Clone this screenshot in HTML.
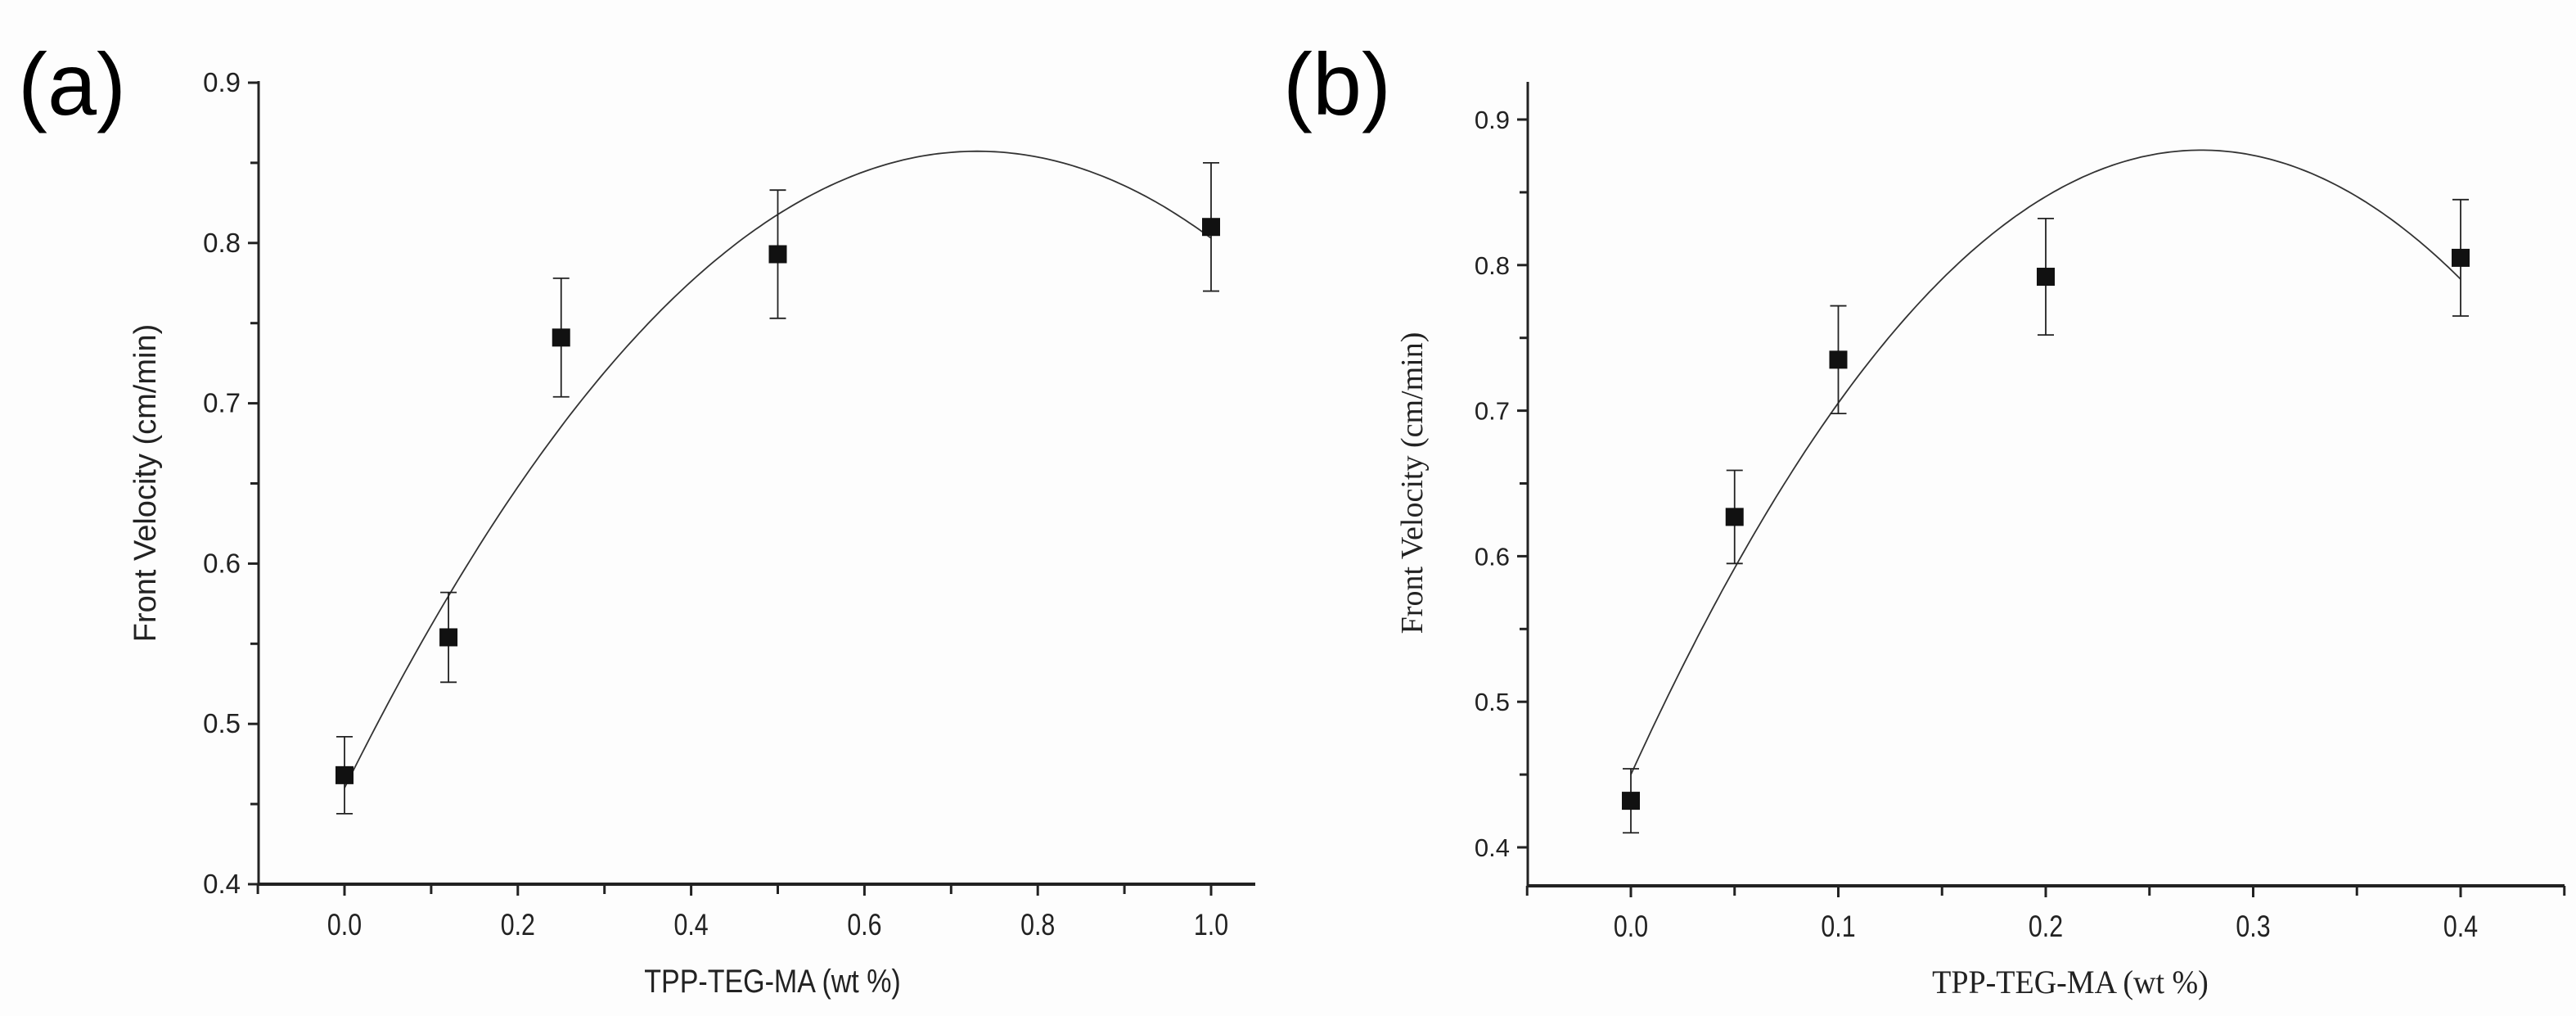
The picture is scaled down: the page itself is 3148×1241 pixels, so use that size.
<!DOCTYPE html>
<html><head><meta charset="utf-8"><style>
html,body{margin:0;padding:0;background:#fff;}
svg{display:block;}
.tk{font-family:"Liberation Sans",sans-serif;fill:#222;}
</style></head><body>
<svg id="fig" width="3148" height="1241" viewBox="0 0 3148 1241" xmlns="http://www.w3.org/2000/svg">
<rect width="3148" height="1241" fill="#fdfdfd"/>
<text x="22" y="140" font-family="Liberation Sans, sans-serif" font-size="108" fill="#000">(a)</text>
<text x="1568" y="140" font-family="Liberation Sans, sans-serif" font-size="108" fill="#000">(b)</text>
<g id="pa"></g>
<g id="pb"></g>
</svg>
<script>
// Panel (a) data
const xA = [0, 0.12, 0.25, 0.5, 1.0];
const yA = [0.468, 0.554, 0.741, 0.793, 0.81];
const eA = [0.024, 0.028, 0.037, 0.04, 0.04];
const fitA = [0.46, 1.088, -0.745];
const xTicksA = ["0.0","0.2","0.4","0.6","0.8","1.0"];
const yTicksA = ["0.4","0.5","0.6","0.7","0.8","0.9"];
// Panel (b) data
const xB = [0, 0.05, 0.1, 0.2, 0.4];
const yB = [0.432, 0.627, 0.735, 0.792, 0.805];
const eB = [0.022, 0.032, 0.037, 0.04, 0.04];
const fitB = [0.45, 3.12, -5.673];
const xTicksB = ["0.0","0.1","0.2","0.3","0.4"];
const yTicksB = ["0.4","0.5","0.6","0.7","0.8","0.9"];

const NS="http://www.w3.org/2000/svg";
function mk(parent,tag,attrs){const e=document.createElementNS(NS,tag);for(const k in attrs)e.setAttribute(k,attrs[k]);parent.appendChild(e);return e;}

function draw(g,cfg){
  const sx=v=>cfg.px0+(v-cfg.x0)*(cfg.px1-cfg.px0)/(cfg.x1-cfg.x0);
  const sy=v=>cfg.py0-(v-cfg.y0)*(cfg.py0-cfg.py1)/(cfg.y1-cfg.y0);
  // axes
  let a=mk(g,'line',{x1:cfg.axL,y1:cfg.axTop,x2:cfg.axL,y2:cfg.axB+1,stroke:'#222','stroke-width':3});
  
  
  a=mk(g,'line',{x1:cfg.axL-1,y1:cfg.axB,x2:cfg.axR,y2:cfg.axB,stroke:'#222','stroke-width':4});
  
  
  // y ticks
  cfg.yt.forEach((t,i)=>{
    const v=parseFloat(t),y=sy(v);
    const l=mk(g,'line',{x1:cfg.axL-13,y1:y,x2:cfg.axL,y2:y,stroke:'#222','stroke-width':3});
    
    
    const tx=mk(g,'text',{x:cfg.axL-22,y:y+11,'text-anchor':'end','font-size':cfg.yfs,class:'tk'});
    tx.textContent=t;
    
    
    if(i<cfg.yt.length-1){const ym=sy(v+cfg.ystep/2);
      const m=mk(g,'line',{x1:cfg.axL-10,y1:ym,x2:cfg.axL,y2:ym,stroke:'#222','stroke-width':3});
      
      }
  });
  // x ticks
  cfg.xt.forEach((t,i)=>{
    const v=parseFloat(t),x=sx(v);
    const l=mk(g,'line',{x1:x,y1:cfg.axB,x2:x,y2:cfg.axB+14,stroke:'#222','stroke-width':3});
    
    
    const tx=mk(g,'text',{x:0,y:0,'text-anchor':'middle','font-size':37,class:'tk',transform:`translate(${x},${cfg.axB+62}) scale(0.82,1)`});
    tx.textContent=t;
    
    
    [v-cfg.xstep/2, v+cfg.xstep/2].forEach((mv,j)=>{
      if(j===1&&i<cfg.xt.length-1||j===0&&i===0||j===1&&i===cfg.xt.length-1&&sx(mv)<cfg.axR){const xm=sx(mv);
      const m=mk(g,'line',{x1:xm,y1:cfg.axB,x2:xm,y2:cfg.axB+12,stroke:'#222','stroke-width':3});
      
      }
    });
  });
  // fit curve
  let d='';
  for(let k=0;k<=200;k++){const v=cfg.fx0+(cfg.fx1-cfg.fx0)*k/200;const yv=cfg.fit[0]+cfg.fit[1]*v+cfg.fit[2]*v*v;d+=(k?'L':'M')+sx(v).toFixed(1)+','+sy(yv).toFixed(1);}
  const c=mk(g,'path',{d:d,fill:'none',stroke:'#333','stroke-width':1.8});
  
  
  // points
  cfg.xs.forEach((xv,i)=>{
    const x=sx(xv),y=sy(cfg.ys[i]),yt=sy(cfg.ys[i]+cfg.es[i]),yb=sy(cfg.ys[i]-cfg.es[i]);
    const eb=mk(g,'path',{d:`M${x},${yt}V${yb}M${x-10},${yt}H${x+10}M${x-10},${yb}H${x+10}`,stroke:'#222','stroke-width':1.8,fill:'none'});
    
    
    const r=mk(g,'rect',{x:x-11,y:y-11,width:22,height:22,fill:'#111'});
    
    
  });
  // labels
  const xl=mk(g,'text',{x:0,y:0,'text-anchor':'middle','font-size':cfg.xlfs,'font-family':cfg.lf,fill:'#222',transform:`translate(${cfg.xlx},${cfg.xly}) scale(${cfg.xls},1)`});
  xl.textContent='TPP-TEG-MA (wt %)';
  
  
  const yl=mk(g,'text',{x:0,y:0,'text-anchor':'middle','font-size':cfg.ylfs,'font-family':cfg.lf,fill:'#222',transform:`translate(${cfg.ylx},${cfg.yly}) rotate(-90)`});
  yl.textContent='Front Velocity (cm/min)';
  
  
}

draw(document.getElementById('pa'),{x0:0,x1:1,px0:421,px1:1480,y0:0.4,y1:0.9,py0:1080,py1:101,
  axL:316,axR:1534,axB:1080,axTop:99,xt:xTicksA,yt:yTicksA,xstep:0.2,ystep:0.1,yfs:33,
  xs:xA,ys:yA,es:eA,fit:fitA,fx0:0,fx1:1,lf:'Liberation Sans, sans-serif',xlfs:40,xls:0.85,xlx:944,xly:1212,ylfs:38,ylx:190,yly:590});
draw(document.getElementById('pb'),{x0:0,x1:0.4,px0:1993,px1:3007,y0:0.4,y1:0.9,py0:1035,py1:146,
  axL:1867,axR:3134,axB:1082,axTop:100,xt:xTicksB,yt:yTicksB,xstep:0.1,ystep:0.1,yfs:31,
  xs:xB,ys:yB,es:eB,fit:fitB,fx0:0,fx1:0.4,lf:'Liberation Serif, serif',xlfs:40,xls:0.95,xlx:2530,xly:1213,ylfs:38,ylx:1738,yly:590});
</script>
</body></html>
